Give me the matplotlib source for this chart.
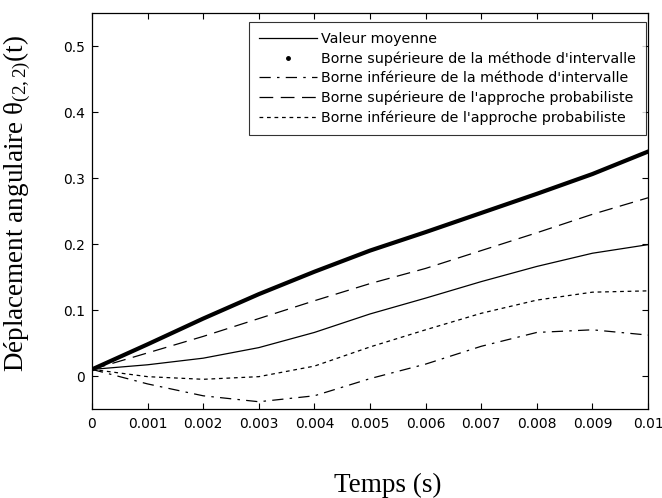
import matplotlib
matplotlib.use("Agg")
import matplotlib.pyplot as plt
from matplotlib.lines import Line2D

# data
t = [0, 0.001, 0.002, 0.003, 0.004, 0.005, 0.006, 0.007, 0.008, 0.009, 0.01]
moyenne = [0.01, 0.017, 0.027, 0.043, 0.066, 0.094, 0.118, 0.143, 0.166, 0.186, 0.199]
sup_intervalle = [0.01, 0.048, 0.087, 0.124, 0.158, 0.19, 0.218, 0.247, 0.276, 0.306, 0.34]
inf_intervalle = [0.01, -0.012, -0.03, -0.039, -0.03, -0.004, 0.018, 0.045, 0.066, 0.07, 0.062]
sup_proba = [0.01, 0.035, 0.06, 0.087, 0.114, 0.14, 0.163, 0.19, 0.217, 0.245, 0.27]
inf_proba = [0.01, -0.001, -0.005, -0.001, 0.015, 0.044, 0.07, 0.095, 0.115, 0.127, 0.129]

labels = ["Valeur moyenne",
          "Borne supérieure de la méthode d'intervalle",
          "Borne inférieure de la méthode d'intervalle",
          "Borne supérieure de l'approche probabiliste",
          "Borne inférieure de l'approche probabiliste"]
xticks = [0, 0.001, 0.002, 0.003, 0.004, 0.005, 0.006, 0.007, 0.008, 0.009, 0.01]
xticklabels = ["0", "0.001", "0.002", "0.003", "0.004", "0.005", "0.006", "0.007", "0.008", "0.009", "0.01"]
yticks = [0, 0.1, 0.2, 0.3, 0.4, 0.5]
yticklabels = ["0", "0.1", "0.2", "0.3", "0.4", "0.5"]

plt.rcParams["font.family"] = ["DejaVu Sans"]
plt.rcParams["mathtext.fontset"] = "custom"
plt.rcParams["mathtext.rm"] = "Liberation Serif"
plt.rcParams["mathtext.it"] = "Liberation Serif"

fig = plt.figure(figsize=(6.62, 4.98), dpi=100)
ax = fig.add_axes([92 / 662, 1 - 409 / 498, 556 / 662, 396 / 498])

dashdot = (0, (9, 5, 2, 5))
longdash = (0, (11, 6))
shortdash = (0, (3, 3))

ax.plot(t, moyenne, color="black", lw=0.9, ls="-")
ax.plot(t, sup_intervalle, color="black", lw=3.0, ls="-")
ax.plot(t, inf_intervalle, color="black", lw=0.9, ls=dashdot)
ax.plot(t, sup_proba, color="black", lw=0.9, ls=longdash)
ax.plot(t, inf_proba, color="black", lw=0.9, ls=shortdash)

ax.set_xlim(0, 0.01)
ax.set_ylim(-0.05, 0.55)
ax.set_xticks(xticks)
ax.set_xticklabels(xticklabels)
ax.set_yticks(yticks)
ax.set_yticklabels(yticklabels)
ax.tick_params(direction="in", length=4, width=0.8, top=True, right=True,
               labelsize=10)
ax.tick_params(axis="x", pad=6)
ax.tick_params(axis="y", pad=5)
for s in ax.spines.values():
    s.set_linewidth(0.9)

ax.set_xlabel("Temps (s)", fontfamily="Liberation Serif", fontsize=19.5, va="top")
ax.xaxis.set_label_coords(0.532, -0.162)
ax.set_ylabel("Déplacement angulaire θ$_{(2,2)}$(t)", fontfamily="Liberation Serif",
              fontsize=19.5)
ax.yaxis.set_label_coords(-0.106, 0.52)

handles = [
    Line2D([], [], color="black", lw=0.9, ls="-"),
    Line2D([], [], color="black", ls="none", marker=".", markersize=5),
    Line2D([], [], color="black", lw=0.9, ls=dashdot),
    Line2D([], [], color="black", lw=0.9, ls=longdash),
    Line2D([], [], color="black", lw=0.9, ls=shortdash),
]
leg = ax.legend(handles, labels, loc="upper right", bbox_to_anchor=(0.996, 0.977),
                fontsize=10.3, frameon=True, fancybox=False, edgecolor="black",
                handlelength=4.0, handletextpad=0.3, labelspacing=0.38,
                borderpad=0.7, borderaxespad=0)
leg.get_frame().set_linewidth(0.8)

fig.savefig("out.png", dpi=100)
